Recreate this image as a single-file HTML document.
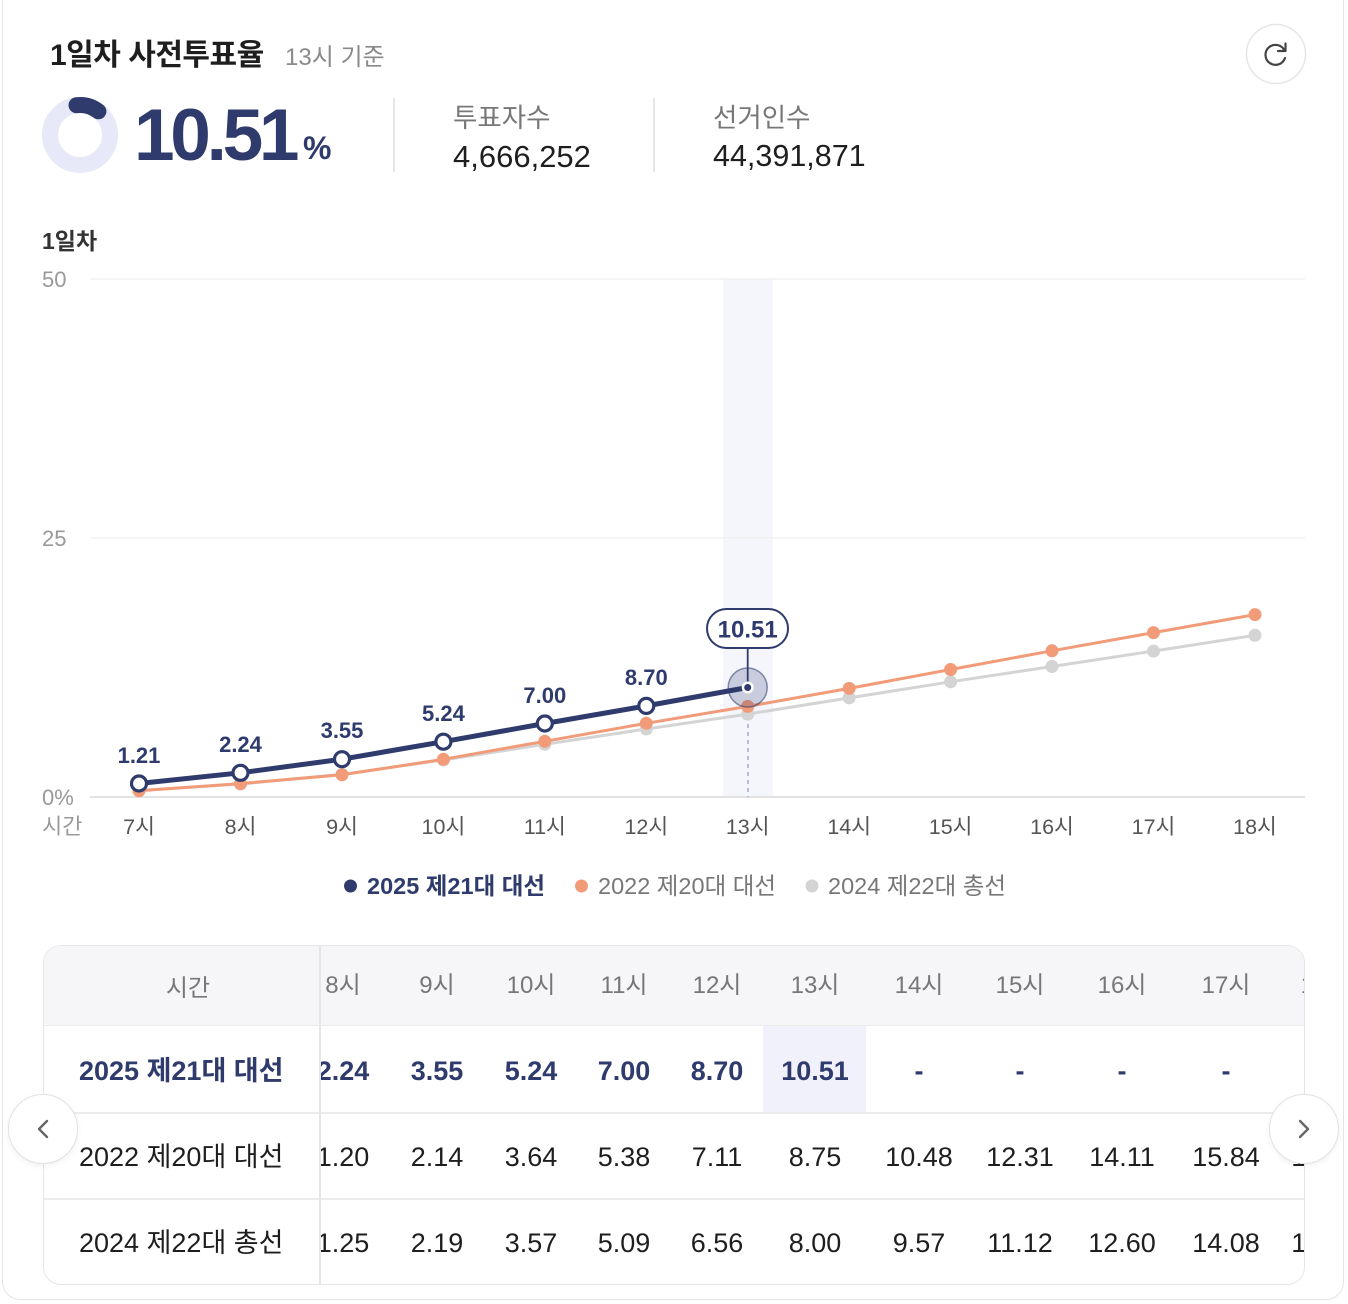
<!DOCTYPE html>
<html><head><meta charset="utf-8">
<style>
*{margin:0;padding:0;box-sizing:border-box}
html,body{width:1348px;height:1304px;overflow:hidden;background:#fff;font-family:"Liberation Sans","Noto Sans CJK KR",sans-serif}
.abs{position:absolute;white-space:nowrap}
.card{position:absolute;left:2px;top:-20px;width:1342px;height:1320px;border:1.5px solid #e4e4e4;border-radius:18px}
.navy{color:#2e3b6c}
.tbl{position:absolute;left:43px;top:945px;width:1262px;height:340px;border:1.5px solid #e6e6e6;border-radius:18px;overflow:hidden;background:#fff}
.hdr{position:absolute;left:0;top:0;width:100%;height:80px;background:#f6f6f8;border-bottom:1.5px solid #ececec}
.rl{position:absolute;left:0;width:100%;height:1.5px;background:#ececec}
.c{position:absolute;text-align:center;width:110px;font-size:27px;line-height:30px}
.btn{position:absolute;width:70px;height:70px;border-radius:50%;background:#fff;border:1.5px solid #e2e2e2;box-shadow:0 2px 6px rgba(0,0,0,0.06)}
</style></head><body>
<div class="card"></div>

<!-- header -->
<div class="abs" style="left:50px;top:30px;font-size:30px;font-weight:bold;color:#1e1e1e;letter-spacing:-0.5px">1일차 사전투표율</div>
<div class="abs" style="left:285px;top:37px;font-size:24px;color:#8a8a8a">13시 기준</div>

<svg class="abs" style="left:0;top:0" width="400" height="200">
  <circle cx="80" cy="135" r="30" fill="none" stroke="#e7e9f8" stroke-width="16"/>
  <path d="M 76.5 105.2 A 30 30 0 0 1 98.4 111.3" fill="none" stroke="#2e3b6c" stroke-width="16" stroke-linecap="round"/>
</svg>
<div class="abs navy" style="left:134px;top:96px;font-size:73px;font-weight:bold;letter-spacing:-4.3px;line-height:80px">10.51</div>
<div class="abs navy" style="left:303px;top:130px;font-size:32px;font-weight:bold">%</div>

<div class="abs" style="left:393px;top:98px;width:1.5px;height:74px;background:#e6e6e6"></div>
<div class="abs" style="left:453px;top:96px;font-size:26.5px;color:#777">투표자수</div>
<div class="abs" style="left:453px;top:139px;font-size:31px;color:#1e1e1e">4,666,252</div>
<div class="abs" style="left:653px;top:98px;width:1.5px;height:74px;background:#e6e6e6"></div>
<div class="abs" style="left:713px;top:96px;font-size:26.5px;color:#777">선거인수</div>
<div class="abs" style="left:713px;top:139px;font-size:30.5px;color:#1e1e1e">44,391,871</div>

<svg class="abs" style="left:1244px;top:22px" width="64" height="64">
  <circle cx="32" cy="32" r="29.5" fill="#fff" stroke="#e6e6e6" stroke-width="1.5"/>
  <path d="M 40.5 28.5 A 10 10 0 1 0 41 36" fill="none" stroke="#444" stroke-width="2.2" stroke-linecap="round"/>
  <path d="M 41.5 21.5 L 41.5 29 L 34 29" fill="none" stroke="#444" stroke-width="2.2" stroke-linecap="round" stroke-linejoin="round"/>
</svg>

<!-- chart -->
<div class="abs" style="left:42px;top:222px;font-size:23px;font-weight:bold;color:#333">1일차</div>
<svg class="abs" style="left:0;top:0" width="1348" height="920" font-family="Liberation Sans, Noto Sans CJK KR, sans-serif">
  <rect x="723" y="279" width="50" height="518" fill="#f5f5fc"/>
  <line x1="90" y1="279" x2="1305" y2="279" stroke="#efefef" stroke-width="1.2"/>
  <line x1="90" y1="538" x2="1305" y2="538" stroke="#efefef" stroke-width="1.2"/>
  <line x1="90" y1="797" x2="1305" y2="797" stroke="#e3e3e3" stroke-width="2"/>
  <g font-size="22" fill="#999">
    <text x="42" y="287">50</text>
    <text x="42" y="546">25</text>
    <text x="42" y="805">0%</text>
    <text x="42" y="834">시간</text>
  </g>
  <g font-size="21.5" fill="#555" text-anchor="middle">
    <text x="139" y="834">7시</text><text x="240.5" y="834">8시</text><text x="342" y="834">9시</text>
    <text x="443.4" y="834">10시</text><text x="544.8" y="834">11시</text><text x="646.3" y="834">12시</text>
    <text x="747.7" y="834">13시</text><text x="849.2" y="834">14시</text><text x="950.6" y="834">15시</text>
    <text x="1052" y="834">16시</text><text x="1153.5" y="834">17시</text><text x="1255" y="834">18시</text>
  </g>
  <line x1="748" y1="700" x2="748" y2="797" stroke="#aaa3e2" stroke-width="1.5" stroke-dasharray="4 4"/>
  <!-- gray series -->
  <polyline fill="none" stroke="#d4d4d4" stroke-width="3" points="139,790.5 240.5,784 342,774.3 443.4,760 544.8,744.3 646.3,729 747.7,714.1 849.2,697.9 950.6,681.8 1052,666.5 1153.5,651.1 1255,635.3"/>
  <g fill="#d4d4d4">
    <circle cx="139" cy="790.5" r="6.5"/><circle cx="240.5" cy="784" r="6.5"/><circle cx="342" cy="774.3" r="6.5"/>
    <circle cx="443.4" cy="760" r="6.5"/><circle cx="544.8" cy="744.3" r="6.5"/><circle cx="646.3" cy="729" r="6.5"/>
    <circle cx="747.7" cy="714.1" r="6.5"/><circle cx="849.2" cy="697.9" r="6.5"/><circle cx="950.6" cy="681.8" r="6.5"/>
    <circle cx="1052" cy="666.5" r="6.5"/><circle cx="1153.5" cy="651.1" r="6.5"/><circle cx="1255" cy="635.3" r="6.5"/>
  </g>
  <!-- orange series -->
  <polyline fill="none" stroke="#f29b79" stroke-width="3" points="139,790.8 240.5,783.6 342,774.8 443.4,759.3 544.8,741.3 646.3,723.3 747.7,706.4 849.2,688.4 950.6,669.5 1052,650.8 1153.5,632.6 1255,614.6"/>
  <g fill="#f29b79">
    <circle cx="139" cy="790.8" r="6.5"/><circle cx="240.5" cy="783.6" r="6.5"/><circle cx="342" cy="774.8" r="6.5"/>
    <circle cx="443.4" cy="759.3" r="6.5"/><circle cx="544.8" cy="741.3" r="6.5"/><circle cx="646.3" cy="723.3" r="6.5"/>
    <circle cx="747.7" cy="706.4" r="6.5"/><circle cx="849.2" cy="688.4" r="6.5"/><circle cx="950.6" cy="669.5" r="6.5"/>
    <circle cx="1052" cy="650.8" r="6.5"/><circle cx="1153.5" cy="632.6" r="6.5"/><circle cx="1255" cy="614.6" r="6.5"/>
  </g>
  <!-- navy series -->
  <polyline fill="none" stroke="#2e3b6c" stroke-width="5" stroke-linejoin="round" points="139,783.5 240.5,772.8 342,759.2 443.4,741.7 544.8,723.5 646.3,705.9 747.7,687.5"/>
  <g fill="#fff" stroke="#2e3b6c" stroke-width="3.2">
    <circle cx="139" cy="783.5" r="7.5"/><circle cx="240.5" cy="772.8" r="7.5"/><circle cx="342" cy="759.2" r="7.5"/>
    <circle cx="443.4" cy="741.7" r="7.5"/><circle cx="544.8" cy="723.5" r="7.5"/><circle cx="646.3" cy="705.9" r="7.5"/>
  </g>
  <circle cx="747.7" cy="687.5" r="19.5" fill="rgba(46,59,108,0.22)" stroke="rgba(46,59,108,0.55)" stroke-width="1.5"/>
  <line x1="747.7" y1="648" x2="747.7" y2="687" stroke="#2e3b6c" stroke-width="1.8"/>
  <circle cx="747.7" cy="687.5" r="6" fill="#fff"/>
  <circle cx="747.7" cy="687.5" r="3.5" fill="#2e3b6c"/>
  <rect x="707" y="609" width="81" height="39" rx="19.5" fill="#fff" stroke="#2e3b6c" stroke-width="2"/>
  <text x="747.7" y="637.5" font-size="24" font-weight="bold" fill="#2e3b6c" text-anchor="middle">10.51</text>
  <g font-size="22" font-weight="bold" fill="#2e3b6c" text-anchor="middle">
    <text x="139" y="763">1.21</text><text x="240.5" y="752">2.24</text><text x="342" y="738">3.55</text>
    <text x="443.4" y="721">5.24</text><text x="544.8" y="703">7.00</text><text x="646.3" y="685">8.70</text>
  </g>
  <!-- legend -->
  <circle cx="350.5" cy="886" r="6.5" fill="#2e3b6c"/>
  <text x="367" y="894" font-size="23.5" font-weight="bold" fill="#2e3b6c">2025 제21대 대선</text>
  <circle cx="581.5" cy="886" r="6.5" fill="#f29b79"/>
  <text x="598" y="894" font-size="23.5" fill="#777">2022 제20대 대선</text>
  <circle cx="812" cy="886" r="6.5" fill="#d4d4d4"/>
  <text x="828" y="894" font-size="23.5" fill="#777">2024 제22대 총선</text>
</svg>

<!-- table -->
<div class="tbl">
  <div class="hdr"></div>
  <div class="rl" style="top:166px"></div>
  <div class="rl" style="top:252px"></div>
  <div class="abs" style="left:275px;top:0;width:1.5px;height:340px;background:#e6e6e6;z-index:2"></div>
  <div class="abs" style="left:0;top:22px;width:288px;text-align:center;font-size:24px;color:#777">시간</div>
  <div class="abs navy" style="left:35px;top:103px;font-size:27px;font-weight:bold">2025 제21대 대선</div>
  <div class="abs" style="left:35px;top:189px;font-size:27px;color:#1e1e1e">2022 제20대 대선</div>
  <div class="abs" style="left:35px;top:275px;font-size:27px;color:#1e1e1e">2024 제22대 총선</div>
  <div class="abs" style="left:276px;top:0;width:986px;height:340px;overflow:hidden">
    <div class="abs" style="left:443px;top:80px;width:103px;height:86px;background:#f0f1fb"></div>
    <div style="position:absolute;top:25px;left:0;color:#777">
      <div class="c" style="left:-32px;font-size:24px">8시</div>
      <div class="c" style="left:62px;font-size:24px">9시</div>
      <div class="c" style="left:156px;font-size:24px">10시</div>
      <div class="c" style="left:249px;font-size:24px">11시</div>
      <div class="c" style="left:342px;font-size:24px">12시</div>
      <div class="c" style="left:440px;font-size:24px">13시</div>
      <div class="c" style="left:544px;font-size:24px">14시</div>
      <div class="c" style="left:645px;font-size:24px">15시</div>
      <div class="c" style="left:747px;font-size:24px">16시</div>
      <div class="c" style="left:851px;font-size:24px">17시</div>
      <div class="c" style="left:950px;font-size:24px">18시</div>
    </div>
    <div style="position:absolute;top:110px;left:0;color:#2e3b6c;font-weight:bold">
      <div class="c" style="left:-32px">2.24</div>
      <div class="c" style="left:62px">3.55</div>
      <div class="c" style="left:156px">5.24</div>
      <div class="c" style="left:249px">7.00</div>
      <div class="c" style="left:342px">8.70</div>
      <div class="c" style="left:440px">10.51</div>
      <div class="c" style="left:544px">-</div>
      <div class="c" style="left:645px">-</div>
      <div class="c" style="left:747px">-</div>
      <div class="c" style="left:851px">-</div>
    </div>
    <div style="position:absolute;top:196px;left:0;color:#1e1e1e">
      <div class="c" style="left:-32px">1.20</div>
      <div class="c" style="left:62px">2.14</div>
      <div class="c" style="left:156px">3.64</div>
      <div class="c" style="left:249px">5.38</div>
      <div class="c" style="left:342px">7.11</div>
      <div class="c" style="left:440px">8.75</div>
      <div class="c" style="left:544px">10.48</div>
      <div class="c" style="left:645px">12.31</div>
      <div class="c" style="left:747px">14.11</div>
      <div class="c" style="left:851px">15.84</div>
      <div class="c" style="left:950px">17.57</div>
    </div>
    <div style="position:absolute;top:282px;left:0;color:#1e1e1e">
      <div class="c" style="left:-32px">1.25</div>
      <div class="c" style="left:62px">2.19</div>
      <div class="c" style="left:156px">3.57</div>
      <div class="c" style="left:249px">5.09</div>
      <div class="c" style="left:342px">6.56</div>
      <div class="c" style="left:440px">8.00</div>
      <div class="c" style="left:544px">9.57</div>
      <div class="c" style="left:645px">11.12</div>
      <div class="c" style="left:747px">12.60</div>
      <div class="c" style="left:851px">14.08</div>
      <div class="c" style="left:950px">15.61</div>
    </div>
  </div>
</div>

<div class="btn" style="left:8px;top:1094px"></div>
<svg class="abs" style="left:8px;top:1094px" width="70" height="70"><path d="M 39 27 L 31 35 L 39 43" fill="none" stroke="#666" stroke-width="2.4" stroke-linecap="round" stroke-linejoin="round"/></svg>
<div class="btn" style="left:1269px;top:1094px"></div>
<svg class="abs" style="left:1269px;top:1094px" width="70" height="70"><path d="M 31 27 L 39 35 L 31 43" fill="none" stroke="#666" stroke-width="2.4" stroke-linecap="round" stroke-linejoin="round"/></svg>
</body></html>
